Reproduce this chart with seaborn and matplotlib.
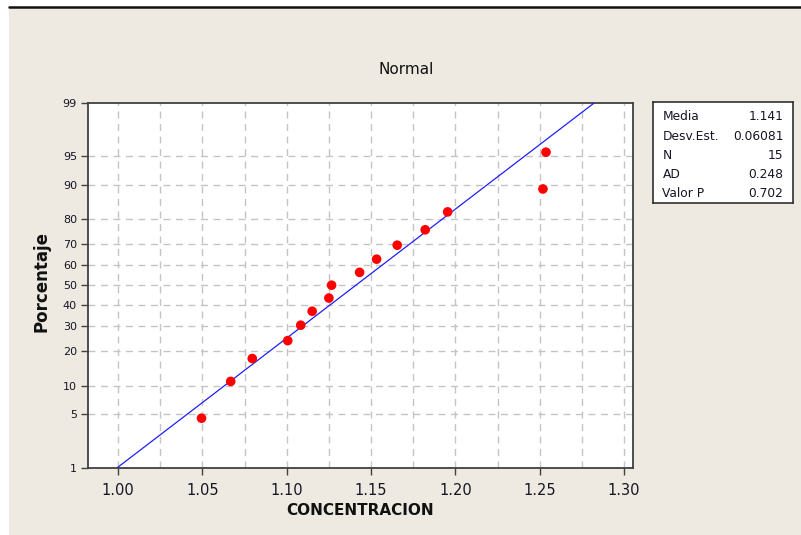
import numpy as np
import matplotlib
matplotlib.use("Agg")
import matplotlib.pyplot as plt
from matplotlib.patches import Rectangle
from matplotlib.lines import Line2D
import seaborn as sns
from statistics import NormalDist

# ---- data ----
concentracion = [1.0495, 1.0668, 1.0796, 1.1006, 1.1083, 1.1151, 1.1250, 1.1266,
                 1.1432, 1.1533, 1.1655, 1.1821, 1.1954, 1.2519, 1.2537]
porcentaje = [4.5, 11.0, 17.5, 24.0, 30.5, 37.0, 43.5, 50.0,
              56.5, 63.0, 69.5, 76.0, 82.5, 89.0, 95.5]
stat_names = ["Media", "Desv.Est.", "N", "AD", "Valor P"]
stat_values = ["1.141", "0.06081", "15", "0.248", "0.702"]
media = 1.141
desv_est = 0.06081
x_ticks = [1.00, 1.05, 1.10, 1.15, 1.20, 1.25, 1.30]
x_tick_labels = ["1.00", "1.05", "1.10", "1.15", "1.20", "1.25", "1.30"]
x_grid = [1.00, 1.025, 1.05, 1.075, 1.10, 1.125, 1.15, 1.175, 1.20, 1.225, 1.25, 1.275, 1.30]
y_ticks = [1, 5, 10, 20, 30, 40, 50, 60, 70, 80, 90, 95, 99]
y_tick_labels = ["1", "5", "10", "20", "30", "40", "50", "60", "70", "80", "90", "95", "99"]

sns.set_theme(style="white")
plt.rcParams["font.family"] = ["DejaVu Sans"]

W, H = 801, 535
fig = plt.figure(figsize=(W / 100, H / 100), dpi=100, facecolor="white")

# beige panel and top black rule
fig.add_artist(Rectangle((9 / W, 0), 1 - 9 / W, 1 - 8 / H, transform=fig.transFigure,
                         facecolor="#EEEAE1", edgecolor="none", zorder=0))
fig.add_artist(Line2D([9 / W, 1], [1 - 7.3 / H, 1 - 7.3 / H], transform=fig.transFigure,
                      color="#111111", linewidth=1.8, zorder=1))

left, right, top, bottom = 88, 632.7, 102.7, 467.7
ax = fig.add_axes([left / W, 1 - bottom / H, (right - left) / W, (bottom - top) / H])
ax.set_facecolor("white")

nd = NormalDist()
_ppf = np.vectorize(lambda v: nd.inv_cdf(v / 100.0), otypes=[float])
_cdf = np.vectorize(lambda v: nd.cdf(v) * 100.0, otypes=[float])


def fwd(p):
    p = np.clip(np.asarray(p, dtype=float), 1e-9, 100 - 1e-9)
    return _ppf(p)


def inv(z):
    return _cdf(np.asarray(z, dtype=float))


ax.set_yscale("function", functions=(fwd, inv))

# fitted normal line
dist = NormalDist(media, desv_est)
x_lo = dist.inv_cdf(0.01)
x_hi = dist.inv_cdf(0.99)
xs = np.linspace(x_lo, x_hi, 60)
ys = np.array([dist.cdf(v) * 100 for v in xs])
sns.lineplot(x=xs, y=ys, ax=ax, color="#1f1fff", linewidth=0.9, zorder=3)

sns.scatterplot(x=concentracion, y=porcentaje, ax=ax, color="#ff0000", s=48,
                edgecolor="none", zorder=4)

ax.set_xlim(0.9822, 1.3051)
ax.set_ylim(1, 99)

# gridlines
for gx in x_grid:
    ax.axvline(gx, color="#c4c4c4", linestyle=(0, (5, 4)), linewidth=1.0, zorder=1)
for gy in y_ticks[1:-1]:
    ax.axhline(gy, color="#c4c4c4", linestyle=(0, (5, 4)), linewidth=1.0, zorder=1)
ax.grid(False)

ax.set_xticks(x_ticks)
ax.set_xticklabels(x_tick_labels, fontsize=10.5, color="#151525")
ax.set_yticks(y_ticks)
ax.set_yticklabels(y_tick_labels, fontsize=8, color="#151525")
ax.minorticks_off()
ax.tick_params(axis="both", which="major", direction="out", length=5, width=1,
               color="#404040", bottom=True, left=True)
ax.tick_params(axis="x", pad=6)
ax.tick_params(axis="y", pad=3)

for sp in ax.spines.values():
    sp.set_color("#404040")
    sp.set_linewidth(1.3)

ax.set_xlabel("CONCENTRACION", fontsize=11, fontweight="bold", color="#111111")
ax.xaxis.set_label_coords(0.5, -0.116)
ax.xaxis.label.set_va("center")
ax.set_ylabel("Porcentaje", fontsize=12, fontweight="bold", color="#111111")
ax.yaxis.set_label_coords(-0.0845, 0.509)
ax.yaxis.label.set_va("center")

fig.text(406 / W, 1 - 70 / H, "Normal", fontsize=11, color="#111111",
         ha="center", va="center")

# statistics box
bx0, bx1, by0, by1 = 653, 793, 102, 203
bax = fig.add_axes([bx0 / W, 1 - by1 / H, (bx1 - bx0) / W, (by1 - by0) / H])
bax.set_facecolor("white")
bax.set_xticks([])
bax.set_yticks([])
for sp in bax.spines.values():
    sp.set_color("#303030")
    sp.set_linewidth(1.2)
row_y = [116.7, 136.7, 155.5, 174.5, 193.5]
for name, val, ry in zip(stat_names, stat_values, row_y):
    fy = (by1 - ry) / (by1 - by0)
    bax.text((662.5 - bx0) / (bx1 - bx0), fy, name, fontsize=8.8, color="#151525",
             ha="left", va="center", transform=bax.transAxes)
    bax.text((783.5 - bx0) / (bx1 - bx0), fy, val, fontsize=8.8, color="#151525",
             ha="right", va="center", transform=bax.transAxes)

fig.savefig("out.png", dpi=100, facecolor=fig.get_facecolor())
